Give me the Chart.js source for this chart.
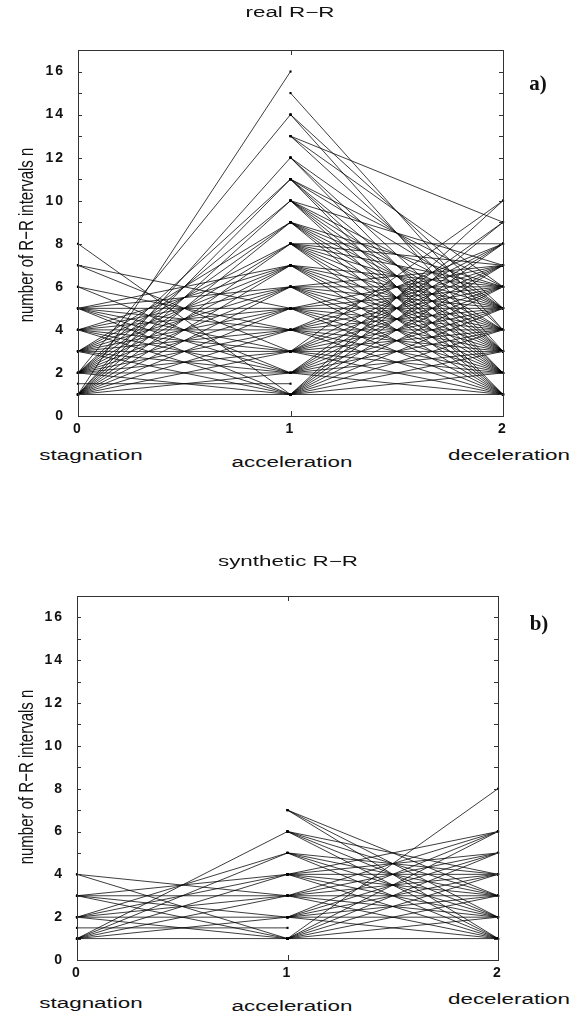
<!DOCTYPE html>
<html>
<head>
<meta charset="utf-8">
<script src="https://cdn.jsdelivr.net/npm/chart.js@4.4.1/dist/chart.umd.min.js"></script>
<style>
body{margin:0;background:#fff;width:575px;height:1015px;position:relative;overflow:hidden;font-family:'Liberation Sans',Arial,sans-serif;color:#111;}
.cv{position:absolute;left:0;width:575px;}
.txt{position:absolute;white-space:nowrap;font-size:14px;transform:translate(-50%,-50%) scaleX(1.6);}
.ylab{position:absolute;white-space:nowrap;font-size:15px;transform:translate(-50%,-50%) rotate(-90deg) scaleY(1.4);}
.tag{position:absolute;font-family:'Liberation Serif',serif;font-weight:bold;font-size:21px;transform:translate(-50%,-50%);}
</style>
</head>
<body>
<div class="cv" style="top:0;height:440px"><canvas id="realChart" width="575" height="440"></canvas></div>
<div class="cv" style="top:500px;height:490px"><canvas id="synChart" width="575" height="490"></canvas></div>

<div class="txt" style="left:290px;top:12px">real R−R</div>
<div class="tag" style="left:538px;top:83px">a)</div>
<div class="ylab" style="left:25px;top:235px">number of R−R intervals n</div>
<div class="txt" id="catA0" style="left:91px;top:455px"></div>
<div class="txt" id="catA1" style="left:292px;top:462px"></div>
<div class="txt" id="catA2" style="left:509px;top:455px"></div>

<div class="txt" style="left:288px;top:561px">synthetic R−R</div>
<div class="tag" style="left:539px;top:623px">b)</div>
<div class="ylab" style="left:25px;top:777px">number of R−R intervals n</div>
<div class="txt" id="catB0" style="left:91px;top:1003px"></div>
<div class="txt" id="catB1" style="left:292px;top:1006px"></div>
<div class="txt" id="catB2" style="left:509px;top:999px"></div>

<script>
// ---- data ----
const categories = ['stagnation','acceleration','deceleration'];
const xTicks = [0,1,2];
const yTicks = [0,2,4,6,8,10,12,14,16];
const yMax = 17;

// real R-R : [stagnation n, acceleration n]
const realStagAcc = [
  [1,1],[1,2],[1,3],[1,4],[1,5],[1,6],[1,7],[1,8],[1,9],[1,10],[1,11],[1,12],[1,16],
  [2,1],[2,2],[2,3],[2,4],[2,5],[2,6],[2,7],[2,8],[2,9],[2,10],[2,11],[2,14],
  [3,1],[3,2],[3,3],[3,4],[3,5],[3,6],[3,7],[3,8],[3,9],
  [4,1],[4,2],[4,3],[4,4],[4,5],[4,6],[4,7],
  [5,1],[5,2],[5,3],[5,4],[5,5],[5,6],[5,7],
  [6,2],[6,4],[7,3],[7,5],[8,1],[1.5,1.5]
];
// real R-R : [acceleration n, deceleration n]
const realAccDec = [
  [1,1],[1,2],[1,3],[1,4],[1,5],[1,6],[1,7],[1,8],[1,9],[1,10],
  [2,1],[2,2],[2,3],[2,4],[2,5],[2,6],[2,7],[2,8],[2,9],
  [3,1],[3,2],[3,3],[3,4],[3,5],[3,6],[3,7],[3,8],[3,10],
  [4,1],[4,2],[4,3],[4,4],[4,5],[4,6],[4,7],[4,8],
  [5,1],[5,2],[5,3],[5,4],[5,5],[5,6],[5,7],
  [6,1],[6,2],[6,3],[6,4],[6,5],[6,6],[6,7],
  [7,1],[7,2],[7,3],[7,4],[7,5],[7,6],
  [8,1],[8,2],[8,3],[8,4],[8,5],[8,6],[8,7],[8,8],
  [9,1],[9,2],[9,3],[9,4],[9,5],[9,6],
  [10,1],[10,2],[10,3],[10,4],[10,5],[10,7],
  [11,1],[11,2],[11,3],[11,5],[11,6],
  [12,2],[12,3],[12,5],[13,4],[13,6],[13,9],[14,3],[14,5],[15,4]
];

// synthetic R-R
const synStagAcc = [
  [1,1],[1,2],[1,3],[1,4],[1,5],[1,6],
  [2,1],[2,2],[2,3],[2,4],[2,5],
  [3,1],[3,2],[3,3],[3,4],
  [4,1],[4,3],[1.5,1.5]
];
const synAccDec = [
  [1,1],[1,2],[1,3],[1,4],[1,5],[1,6],[1,8],
  [2,1],[2,2],[2,3],[2,4],[2,5],[2,6],
  [3,1],[3,2],[3,3],[3,4],[3,5],[3,6],
  [4,1],[4,2],[4,3],[4,4],[4,5],[4,6],
  [5,1],[5,2],[5,3],[5,4],
  [6,1],[6,2],[6,3],[6,4],
  [7,1],[7,2],[7,3]
];

// ---- helpers ----
function segPoints(pairs, x0){
  const pts = [];
  pairs.forEach(p=>{
    pts.push({x:x0,y:p[0]},{x:x0+1,y:p[1]},{x:x0+0.5,y:null});
  });
  return pts;
}

// box + inner ticks like the original plot
const frame = {
  id:'frame',
  beforeDraw(chart){ chart.ctx.letterSpacing = '2px'; },
  afterDraw(chart){
    const {ctx, chartArea:a, scales} = chart;
    ctx.save();
    ctx.letterSpacing = '0px';
    ctx.strokeStyle = '#333';
    ctx.lineWidth = 1;
    ctx.strokeRect(Math.round(a.left)+0.5, Math.round(a.top)+0.5, Math.round(a.right-a.left), Math.round(a.bottom-a.top));
    ctx.beginPath();
    for(let v=0; v<=yMax; v++){
      const y = Math.round(scales.y.getPixelForValue(v))+0.5;
      ctx.moveTo(a.left, y); ctx.lineTo(a.left+4, y);
      ctx.moveTo(a.right, y); ctx.lineTo(a.right-4, y);
    }
    const x1 = Math.round(scales.x.getPixelForValue(1))+0.5;
    ctx.moveTo(x1, a.top); ctx.lineTo(x1, a.top+5);
    ctx.moveTo(x1, a.bottom); ctx.lineTo(x1, a.bottom-5);
    ctx.stroke();
    ctx.restore();
    ctx.letterSpacing = '0px';
  }
};

function makeChart(id, left, right, pad, yWidth){
  const datasets = [left, right].map((pairs,i)=>({
    data: segPoints(pairs, i),
    showLine: true,
    spanGaps: false,
    borderColor: 'rgba(0,0,0,0.9)',
    borderWidth: 0.85,
    pointRadius: 1.5,
    pointStyle: 'rect',
    pointBackgroundColor: '#000',
    pointBorderWidth: 0,
    clip: false
  }));
  const tickFont = {family:'Liberation Sans', size:14, weight:'bold'};
  return new Chart(document.getElementById(id), {
    type: 'scatter',
    data: {datasets},
    options: {
      responsive: false,
      animation: false,
      events: [],
      layout: {padding: pad},
      plugins: {legend:{display:false}, tooltip:{enabled:false}},
      scales: {
        x: {
          type:'linear', min:0, max:2,
          afterBuildTicks: s=>{ s.ticks = xTicks.map(v=>({value:v})); },
          afterFit: s=>{ s.height = 24; },
          grid:{display:false, drawTicks:false},
          border:{display:false},
          ticks:{padding:5, color:'#111', font:tickFont, maxRotation:0}
        },
        y: {
          type:'linear', min:0, max:yMax,
          afterBuildTicks: s=>{ s.ticks = yTicks.map(v=>({value:v})); },
          afterFit: s=>{ s.width = yWidth; },
          grid:{display:false, drawTicks:false},
          border:{display:false},
          ticks:{padding:13, color:'#111', autoSkip:false, font:tickFont}
        }
      }
    },
    plugins: [frame]
  });
}

makeChart('realChart', realStagAcc, realAccDec, {top:50, right:72, bottom:0, left:0}, 78);
makeChart('synChart', synStagAcc, synAccDec, {top:96, right:77, bottom:6, left:0}, 77);

['A','B'].forEach(p=>{
  categories.forEach((c,i)=>{ document.getElementById('cat'+p+i).textContent = c; });
});
</script>
</body>
</html>
